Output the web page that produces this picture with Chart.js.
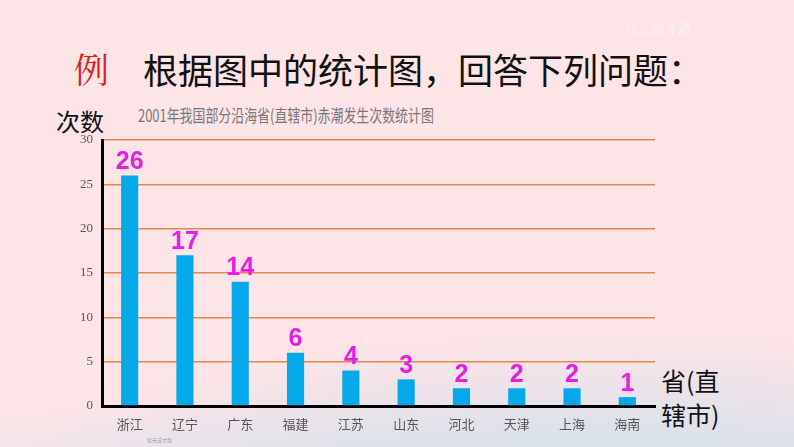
<!DOCTYPE html>
<html>
<head>
<meta charset="utf-8">
<script src="https://cdn.jsdelivr.net/npm/chart.js@4"></script>
<style>
  body { margin: 0; }
  #page {
    position: relative; width: 794px; height: 447px; overflow: hidden;
    background:
      radial-gradient(ellipse 760px 240px at 78% 128%, rgba(185,212,228,0.95) 0%, rgba(212,225,236,0.85) 55%, rgba(253,228,231,0) 100%),
      radial-gradient(ellipse 600px 120px at 20% 118%, rgba(225,232,240,0.8) 0%, rgba(253,228,231,0) 100%),
      #fde4e6;
    font-family: "Noto Sans CJK SC", sans-serif;
  }
  .txt { position: absolute; white-space: nowrap; }
  #wrap { position: absolute; left: 0; top: 0; width: 794px; height: 447px; }
</style>
</head>
<body>
<div id="page">
  <div class="txt" style="left:74px;top:43px;font-size:35px;color:#d81e1e;font-family:'Noto Serif CJK SC','Noto Sans CJK SC',serif;">例</div>
  <div class="txt" style="left:143px;top:43px;font-size:35px;color:#111;">根据图中的统计图，回答下列问题：</div>
  <div class="txt" style="left:56px;top:103px;font-size:24px;color:#111;">次数</div>
  <div class="txt" style="left:138px;top:102px;font-size:17px;color:#777;transform:scaleX(0.76);transform-origin:left top;">2001年我国部分沿海省(直辖市)赤潮发生次数统计图</div>
  <div class="txt" style="left:661px;top:362px;font-size:25px;color:#111;">省(直</div>
  <div class="txt" style="left:661px;top:396px;font-size:25px;color:#111;">辖市)</div>
  <div class="txt" style="left:626px;top:18px;font-size:13px;color:rgba(255,255,255,0.55);font-family:'Noto Serif CJK SC',serif;">状元成才路</div>
  <div class="txt" style="left:147px;top:436px;font-size:5px;color:#999;">状元成才路</div>
  <div id="wrap"><canvas id="myChart"></canvas></div>
</div>
<script>
const provinces = ['浙江', '辽宁', '广东', '福建', '江苏', '山东', '河北', '天津', '上海', '海南'];
const counts = [26, 17, 14, 6, 4, 3, 2, 2, 2, 1];
const yTicks = [0, 5, 10, 15, 20, 25, 30];

// numbers over bars
const barLabels = {
  id: 'barLabels',
  afterDatasetsDraw(chart) {
    const c = chart.ctx;
    const meta = chart.getDatasetMeta(0);
    c.save();
    c.font = 'bold 25px "Liberation Sans", Arial, sans-serif';
    c.fillStyle = '#e41ee4';
    c.textAlign = 'center';
    c.textBaseline = 'bottom';
    meta.data.forEach((bar, i) => {
      c.fillText(counts[i], bar.x, bar.y - 1);
    });
    c.restore();
  },
};

const ctx = document.getElementById('myChart');

new Chart(ctx, {
  type: 'bar',
  data: {
    labels: provinces,
    datasets: [
      {
        data: counts,
        backgroundColor: '#05a8e8',
        barPercentage: 0.62,
        categoryPercentage: 0.5,
      },
    ],
  },
  options: {
    responsive: true,
    maintainAspectRatio: false,
    animation: false,
    layout: { padding: { left: 62, right: 139, top: 140, bottom: 0 } },
    plugins: { legend: { display: false }, tooltip: { enabled: false } },
    scales: {
      x: {
        grid: { display: false },
        border: { color: '#000', width: 3 },
        ticks: {
          color: '#555',
          padding: 2,
          font: { size: 13, family: '"Noto Sans CJK SC", sans-serif' },
        },
        afterFit(scale) { scale.height = 41; },
      },
      y: {
        min: 0,
        max: 30,
        afterBuildTicks(scale) { scale.ticks = yTicks.map(v => ({ value: v })); },
        grid: { color: '#e2884a', lineWidth: 1.5, drawTicks: false },
        border: { color: '#000', width: 3 },
        ticks: {
          color: '#555',
          padding: 9,
          font: { size: 13, family: '"Liberation Serif", serif' },
        },
        afterFit(scale) { scale.width = 40; },
      },
    },
  },
  plugins: [barLabels],
});
</script>
</body>
</html>
